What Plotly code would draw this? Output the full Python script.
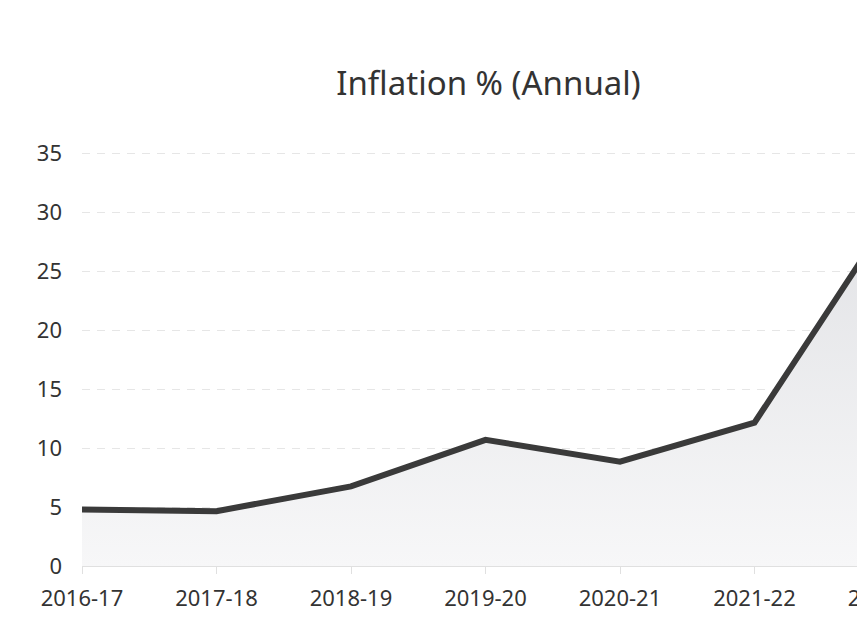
import plotly.graph_objects as go

categories = ["2016-17", "2017-18", "2018-19", "2019-20", "2020-21", "2021-22", "2022-23"]
inflation = [4.8, 4.65, 6.75, 10.7, 8.85, 12.15, 29.5]
y_ticks = [0, 5, 10, 15, 20, 25, 30, 35]
title_text = "Inflation % (Annual)"

FONT = "Noto Sans"

fig = go.Figure()
fig.add_trace(go.Scatter(
    x=categories, y=inflation, mode="lines",
    line=dict(color="#3a3a3a", width=6),
    fill="tozeroy",
    fillgradient=dict(type="vertical",
                      colorscale=[[0, "rgba(247,247,248,1)"], [1, "rgba(226,227,230,1)"]]),
    hoverinfo="x+y",
))

fig.update_layout(
    width=961, height=616,
    margin=dict(l=74, r=80, t=142.6, b=56),
    paper_bgcolor="white", plot_bgcolor="white",
    showlegend=False,
    title=dict(text=title_text, x=0.5, xanchor="center", y=0.877, yanchor="middle",
               font=dict(family=FONT, size=33, color="#333333")),
    font=dict(family=FONT, color="#333333"),
)
fig.update_xaxes(
    type="category", range=[0, len(categories) - 1],
    showgrid=False, showline=True, linecolor="#e0e0e0", linewidth=1,
    ticks="outside", ticklen=7, tickcolor="#e0e0e0", tickwidth=1,
    ticklabelstandoff=6,
    tickfont=dict(family=FONT, size=22, color="#333333"),
)
fig.update_yaxes(
    range=[0, 35.2], tickvals=y_ticks, ticktext=[str(v) for v in y_ticks],
    showgrid=True, gridcolor="#e6e6e6", griddash="8px,7px", gridwidth=1,
    zeroline=False, showline=False, ticks="", ticklabelstandoff=19,
    tickfont=dict(family=FONT, size=22, color="#333333"),
)

fig.write_html("out.html", post_script="document.body.style.overflow='hidden';")
